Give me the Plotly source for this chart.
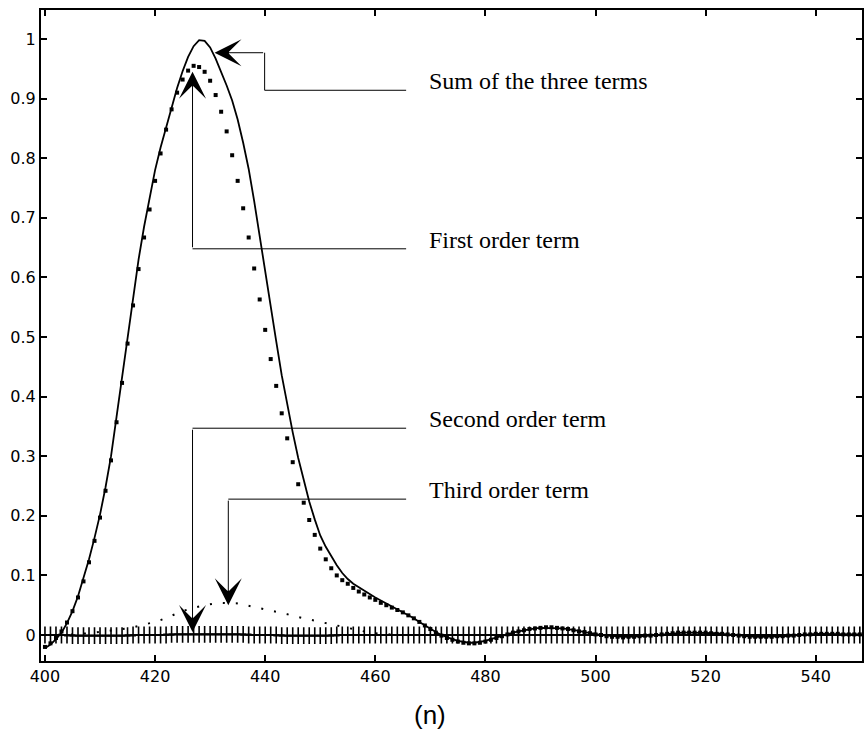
import plotly.graph_objects as go

# Sample index (n) shared by every curve
n = list(range(400, 549))

# Sum of the three terms (solid line)
sum_terms = [
    -0.022, -0.016, -0.007, 0.004, 0.020, 0.040, 0.065, 0.094, 0.127, 0.163,
    0.202, 0.248, 0.300, 0.366, 0.433, 0.500, 0.566, 0.630, 0.685, 0.735,
    0.780, 0.818, 0.853, 0.887, 0.918, 0.946, 0.970, 0.988, 0.998, 0.997,
    0.986, 0.967, 0.945, 0.922, 0.897, 0.865, 0.826, 0.782, 0.728, 0.668,
    0.610, 0.553, 0.493, 0.436, 0.386, 0.340, 0.297, 0.258, 0.224, 0.194,
    0.167, 0.148, 0.132, 0.117, 0.104, 0.094, 0.086, 0.080, 0.074, 0.068,
    0.063, 0.058, 0.053, 0.048, 0.043, 0.039, 0.034, 0.028, 0.022, 0.016,
    0.010, 0.005, 0.000, -0.004, -0.007, -0.010, -0.012, -0.013, -0.013, -0.012,
    -0.010, -0.007, -0.004, -0.001, 0.002, 0.004, 0.006, 0.008, 0.010, 0.011,
    0.012, 0.012, 0.012, 0.012, 0.011, 0.010, 0.009, 0.007, 0.005, 0.004,
    0.002, 0.000, -0.001, -0.002, -0.003, -0.003, -0.003, -0.003, -0.002, -0.002,
    -0.001, 0.000, 0.001, 0.002, 0.003, 0.003, 0.004, 0.004, 0.004, 0.004,
    0.004, 0.003, 0.003, 0.002, 0.001, 0.000, -0.001, -0.002, -0.002, -0.003,
    -0.003, -0.003, -0.003, -0.003, -0.002, -0.002, -0.001, 0.000, 0.001, 0.001,
    0.002, 0.002, 0.002, 0.002, 0.002, 0.002, 0.001, 0.001, 0.001,
]

# First order term (square dots)
first_order = [
    -0.020, -0.014, -0.005, 0.006, 0.021, 0.040, 0.063, 0.090, 0.122, 0.158,
    0.197, 0.242, 0.293, 0.357, 0.423, 0.489, 0.553, 0.614, 0.667, 0.714,
    0.762, 0.808, 0.848, 0.882, 0.910, 0.932, 0.947, 0.955, 0.953, 0.945,
    0.930, 0.906, 0.878, 0.845, 0.805, 0.762, 0.716, 0.667, 0.615, 0.563,
    0.512, 0.463, 0.418, 0.372, 0.330, 0.290, 0.253, 0.222, 0.193, 0.168,
    0.145, 0.127, 0.112, 0.100, 0.092, 0.086, 0.079, 0.073, 0.068, 0.063,
    0.059, 0.054, 0.050, 0.046, 0.042, 0.038, 0.033, 0.028, 0.022, 0.016,
    0.010, 0.004, -0.001, -0.005, -0.008, -0.011, -0.013, -0.014, -0.014, -0.013,
    -0.011, -0.008, -0.005, -0.002, 0.001, 0.004, 0.006, 0.008, 0.010, 0.011,
    0.012, 0.013, 0.013, 0.012, 0.011, 0.010, 0.008, 0.006, 0.005, 0.003,
    0.001, 0.000, -0.002, -0.003, -0.003, -0.004, -0.003, -0.003, -0.002, -0.001,
    -0.001, 0.000, 0.001, 0.002, 0.003, 0.004, 0.004, 0.004, 0.004, 0.004,
    0.004, 0.003, 0.002, 0.002, 0.001, 0.000, -0.001, -0.002, -0.003, -0.003,
    -0.003, -0.003, -0.003, -0.002, -0.002, -0.001, -0.001, 0.000, 0.001, 0.001,
    0.002, 0.002, 0.002, 0.002, 0.002, 0.001, 0.001, 0.001, 0.001,
]

# Second order term (plus markers, close to zero)
second_order = [
    0.000, 0.000, 0.000, 0.000, 0.000, -0.001, -0.001, -0.001, -0.001, -0.001,
    -0.001, -0.001, -0.001, -0.001, -0.001, -0.001, 0.000, 0.000, 0.000, 0.000,
    0.000, 0.000, 0.000, 0.001, 0.001, 0.001, 0.001, 0.001, 0.001, 0.001,
    0.001, 0.001, 0.001, 0.001, 0.001, 0.001, 0.001, 0.000, 0.000, 0.000,
    0.000, 0.000, 0.000, -0.001, -0.001, -0.001, -0.001, -0.001, -0.001, -0.001,
    -0.001, -0.001, -0.001, 0.000, 0.000, 0.000, 0.000, 0.000, 0.000, 0.000,
    0.000, 0.000, 0.000, 0.000, 0.000, 0.000, 0.000, 0.000, 0.000, 0.000,
    0.000, 0.000, 0.000, 0.000, 0.000, 0.000, 0.000, 0.000, 0.000, 0.000,
    0.000, 0.000, 0.000, 0.000, 0.000, 0.000, 0.000, 0.000, 0.000, 0.000,
    0.000, 0.000, 0.000, 0.000, 0.000, 0.000, 0.000, 0.000, 0.000, 0.000,
    0.000, 0.000, 0.000, 0.000, 0.000, 0.000, 0.000, 0.000, 0.000, 0.000,
    0.000, 0.000, 0.000, 0.000, 0.000, 0.000, 0.000, 0.000, 0.000, 0.000,
    0.000, 0.000, 0.000, 0.000, 0.000, 0.000, 0.000, 0.000, 0.000, 0.000,
    0.000, 0.000, 0.000, 0.000, 0.000, 0.000, 0.000, 0.000, 0.000, 0.000,
    0.000, 0.000, 0.000, 0.000, 0.000, 0.000, 0.000, 0.000, 0.000,
]

# Third order term (dotted line)
third_order = [
    0.000, 0.000, 0.000, 0.001, 0.001, 0.001, 0.002, 0.002, 0.003, 0.004,
    0.005, 0.006, 0.007, 0.008, 0.010, 0.011, 0.013, 0.015, 0.018, 0.020,
    0.022, 0.025, 0.029, 0.032, 0.036, 0.040, 0.043, 0.046, 0.048, 0.050,
    0.052, 0.053, 0.054, 0.054, 0.054, 0.053, 0.051, 0.049, 0.047, 0.046,
    0.044, 0.042, 0.040, 0.037, 0.035, 0.032, 0.030, 0.028, 0.026, 0.024,
    0.021, 0.019, 0.017, 0.015, 0.013, 0.011, 0.009, 0.007, 0.006, 0.004,
    0.003, 0.002, 0.001, 0.000, 0.000, 0.000, 0.000, 0.000, 0.000, 0.000,
    0.000, 0.000, 0.000, 0.000, 0.000, 0.000, 0.000, 0.000, 0.000, 0.000,
    0.000, 0.000, 0.000, 0.000, 0.000, 0.000, 0.000, 0.000, 0.000, 0.000,
    0.000, 0.000, 0.000, 0.000, 0.000, 0.000, 0.000, 0.000, 0.000, 0.000,
    0.000, 0.000, 0.000, 0.000, 0.000, 0.000, 0.000, 0.000, 0.000, 0.000,
    0.000, 0.000, 0.000, 0.000, 0.000, 0.000, 0.000, 0.000, 0.000, 0.000,
    0.000, 0.000, 0.000, 0.000, 0.000, 0.000, 0.000, 0.000, 0.000, 0.000,
    0.000, 0.000, 0.000, 0.000, 0.000, 0.000, 0.000, 0.000, 0.000, 0.000,
    0.000, 0.000, 0.000, 0.000, 0.000, 0.000, 0.000, 0.000, 0.000,
]

x_ticks = [400, 420, 440, 460, 480, 500, 520, 540]
y_ticks = [0, 0.1, 0.2, 0.3, 0.4, 0.5, 0.6, 0.7, 0.8, 0.9, 1]
y_ticktext = ["0", "0.1", "0.2", "0.3", "0.4", "0.5", "0.6", "0.7", "0.8", "0.9", "1"]

# Callout labels: text, elbow path (n, value) ending at the arrow tip
callouts = [
    ("Sum of the three terms", [(465.6, 0.914), (439.9, 0.914), (439.9, 0.977), (430.8, 0.977)]),
    ("First order term", [(465.6, 0.648), (426.8, 0.648), (426.8, 0.945)]),
    ("Second order term", [(465.6, 0.347), (426.8, 0.347), (426.8, 0.005)]),
    ("Third order term", [(465.6, 0.228), (433.3, 0.228), (433.3, 0.050)]),
]
label_x = 469.4

fig = go.Figure()

fig.add_trace(go.Scatter(
    x=n, y=second_order, mode="markers",
    marker=dict(symbol="cross-thin", size=12, line=dict(width=1.6, color="black")),
))
fig.add_trace(go.Scatter(
    x=n, y=third_order, mode="lines",
    line=dict(color="black", width=2, dash="2px,11px"),
))
fig.add_trace(go.Scatter(
    x=n, y=sum_terms, mode="lines",
    line=dict(color="black", width=1.8),
))
fig.add_trace(go.Scatter(
    x=n, y=first_order, mode="markers",
    marker=dict(symbol="square", size=4, color="black"),
))

shapes = []
annotations = []
for text, path in callouts:
    # straight segments of the elbow connector
    for (x0, y0), (x1, y1) in zip(path[:-2], path[1:-1]):
        shapes.append(dict(type="line", xref="x", yref="y", x0=x0, y0=y0, x1=x1, y1=y1,
                           line=dict(color="black", width=1)))
    # last segment carries the arrowhead
    (tx, ty), (hx, hy) = path[-2], path[-1]
    annotations.append(dict(
        x=hx, y=hy, ax=tx, ay=ty, xref="x", yref="y", axref="x", ayref="y",
        text="", showarrow=True, arrowhead=3, arrowsize=4.5, arrowwidth=1,
        arrowcolor="black",
    ))
    annotations.append(dict(
        x=label_x, y=path[0][1] + 0.015, xref="x", yref="y",
        text=text, showarrow=False, xanchor="left", yanchor="middle",
        font=dict(family="Liberation Serif", size=24, color="black"),
    ))

annotations.append(dict(
    x=0.474, y=-0.083, xref="paper", yref="paper", text="(n)", showarrow=False,
    xanchor="center", yanchor="middle",
    font=dict(family="Liberation Sans", size=26, color="black"),
))

axis_common = dict(
    showline=True, linewidth=2, linecolor="black", mirror="ticks",
    ticks="inside", ticklen=6, tickwidth=1.5, tickcolor="black",
    showgrid=False, zeroline=False,
    tickfont=dict(family="DejaVu Sans", size=16, color="black"),
)

fig.update_layout(
    width=865, height=731,
    margin=dict(l=41, r=1, t=10, b=70),
    paper_bgcolor="white", plot_bgcolor="white",
    showlegend=False,
    shapes=shapes, annotations=annotations,
    xaxis=dict(range=[399.28, 548.4], tickmode="array", tickvals=x_ticks, **axis_common),
    yaxis=dict(range=[-0.0436, 1.0487], tickmode="array", tickvals=y_ticks,
               ticktext=y_ticktext, **axis_common),
)

fig.write_html("out.html")
